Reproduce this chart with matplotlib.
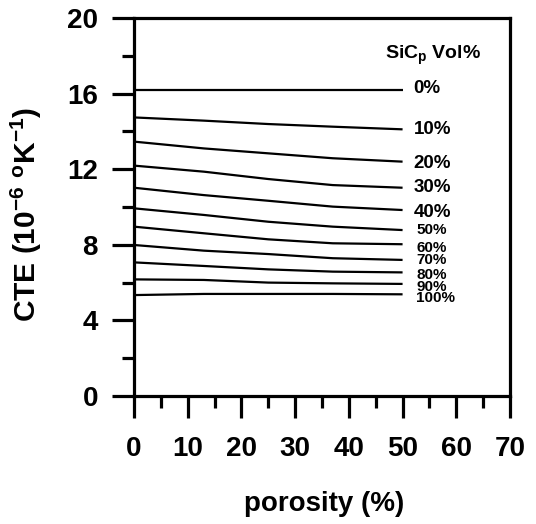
import matplotlib
matplotlib.use("Agg")
import matplotlib.pyplot as plt
from matplotlib.ticker import MultipleLocator

plt.rcParams['font.family'] = ['Liberation Sans', 'DejaVu Sans']
plt.rcParams['font.weight'] = 'bold'
plt.rcParams['mathtext.fontset'] = 'custom'
plt.rcParams['mathtext.rm'] = 'Liberation Sans:bold'
plt.rcParams['mathtext.it'] = 'Liberation Sans:bold'
plt.rcParams['mathtext.bf'] = 'Liberation Sans:bold'

porosity = [0, 13, 25, 37, 50]
labels = ['0%', '10%', '20%', '30%', '40%', '50%', '60%', '70%', '80%', '90%', '100%']
cte_0 = [16.2, 16.2, 16.2, 16.2, 16.2]
cte_10 = [14.74, 14.57, 14.39, 14.25, 14.11]
cte_20 = [13.46, 13.10, 12.84, 12.58, 12.40]
cte_30 = [12.19, 11.87, 11.48, 11.16, 11.02]
cte_40 = [11.02, 10.63, 10.33, 10.02, 9.84]
cte_50 = [9.93, 9.58, 9.22, 8.96, 8.78]
cte_60 = [8.96, 8.61, 8.29, 8.08, 8.03]
cte_70 = [7.99, 7.69, 7.51, 7.29, 7.20]
cte_80 = [7.07, 6.88, 6.70, 6.58, 6.54]
cte_90 = [6.17, 6.14, 6.00, 5.96, 5.93]
cte_100 = [5.34, 5.40, 5.40, 5.40, 5.38]
series = [cte_0, cte_10, cte_20, cte_30, cte_40, cte_50, cte_60, cte_70, cte_80, cte_90, cte_100]

fig = plt.figure(figsize=(5.36, 5.24), dpi=100)
ax = fig.add_axes([0.25, 0.2443, 0.7015, 0.7213])

label_sizes = [13.5, 13.5, 13.5, 13.5, 13.5, 11, 11, 11, 11, 11, 11]
label_dy = [1, 0, -1, 0, -2, 0, -3, 0, -2, -2, -3]
for vals, lab, fs, dy in zip(series, labels, label_sizes, label_dy):
    ax.plot(porosity, vals, color='black', lw=1.6, solid_capstyle='butt')
    dx = 8 if fs > 12 else 10
    ax.annotate(lab, xy=(porosity[-1], vals[-1]), xytext=(dx, dy),
                textcoords='offset points', ha='left', va='center',
                fontsize=fs, fontweight='bold')

ax.text(0.668, 0.902, r'SiC$_{p}$ Vol%', transform=ax.transAxes, ha='left',
        va='center', fontsize=14, fontweight='bold')

ax.set_xlim(0, 70)
ax.set_ylim(0, 20)
ax.xaxis.set_major_locator(MultipleLocator(10))
ax.xaxis.set_minor_locator(MultipleLocator(5))
ax.yaxis.set_major_locator(MultipleLocator(4))
ax.yaxis.set_minor_locator(MultipleLocator(2))
ax.tick_params(which='major', direction='out', length=16, width=2.3, labelsize=20, pad=10)
ax.tick_params(which='minor', direction='out', length=8.5, width=2.3)
ax.tick_params(axis='x', which='major', pad=13)
for lab in ax.get_xticklabels() + ax.get_yticklabels():
    lab.set_fontweight('bold')
for sp in ax.spines.values():
    sp.set_linewidth(2.3)

ax.set_xlabel('porosity (%)', fontsize=20, fontweight='bold', va='center')
ax.xaxis.set_label_coords(0.505, -0.285)
ax.set_ylabel(r'CTE (10$^{-6}$ $^{o}$K$^{-1}$)', fontsize=21.5, fontweight='bold',
              va='center')
ax.yaxis.set_label_coords(-0.285, 0.48)

fig.savefig('out.png', dpi=100)
